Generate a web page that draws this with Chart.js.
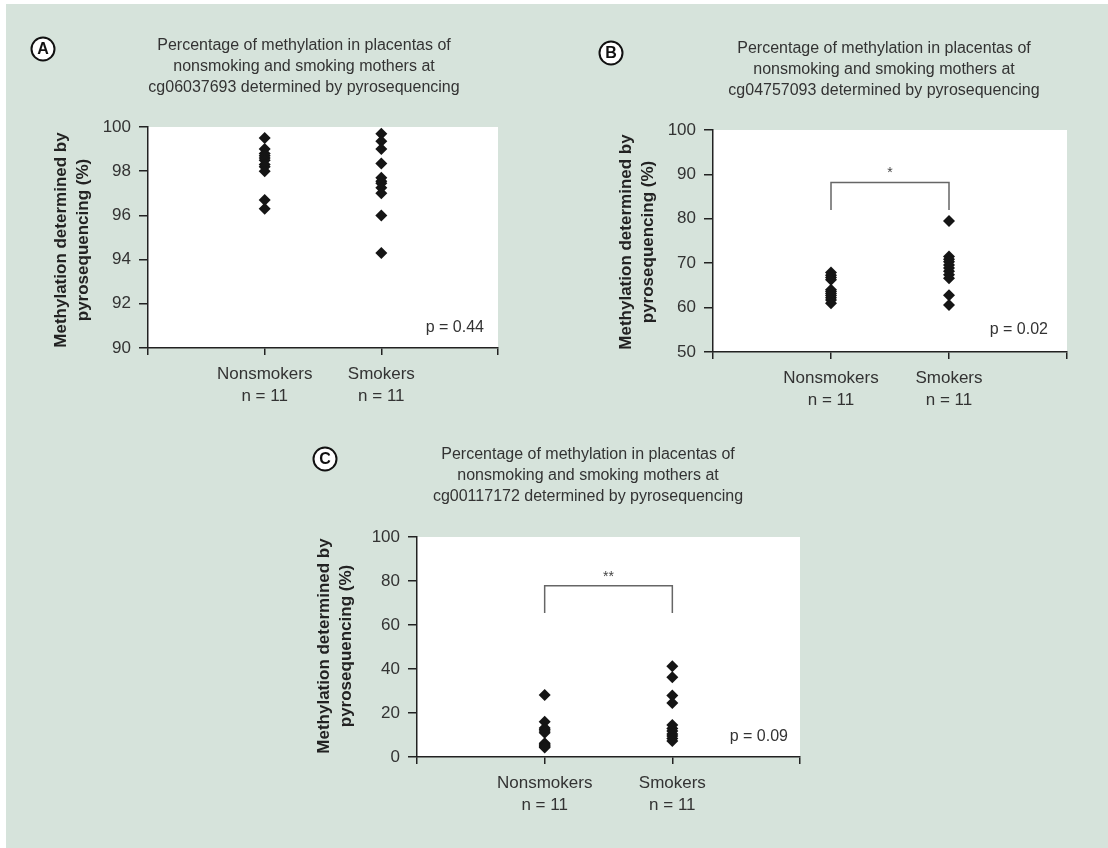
<!DOCTYPE html>
<html>
<head>
<meta charset="utf-8">
<script src="https://cdn.jsdelivr.net/npm/chart.js@4.4.1/dist/chart.umd.min.js"></script>
<style>
  html, body { margin: 0; padding: 0; background: #fff; }
  #page { position: relative; width: 1108px; height: 848px; overflow: hidden; }
  #bg { position: absolute; left: 6px; top: 4px; width: 1102px; height: 844px; background: #d6e3db; }
  canvas { position: absolute; }
</style>
</head>
<body>
<div id="page"><div id="bg"></div></div>
<script>
// categories and group sizes
const categories = ['Nonsmokers', 'Smokers'];
const groupSizes = ['n = 11', 'n = 11'];

// A: cg06037693
const nonsmokersA = [99.5, 99.0, 98.8, 98.7, 98.6, 98.5, 98.3, 98.2, 98.0, 96.7, 96.3];
const smokersA = [99.7, 99.35, 99.0, 98.35, 97.7, 97.55, 97.45, 97.25, 97.0, 96.0, 94.3];
const ticksA = [90, 92, 94, 96, 98, 100];

// B: cg04757093
const nonsmokersB = [67.9, 67.3, 66.8, 66.3, 64.0, 63.6, 63.2, 62.7, 62.2, 61.7, 61.0];
const smokersB = [79.5, 71.5, 70.9, 70.3, 69.6, 68.9, 68.2, 67.4, 66.6, 62.8, 60.6];
const ticksB = [50, 60, 70, 80, 90, 100];

// C: cg00117172
const nonsmokersC = [28.2, 16.0, 13.2, 12.5, 11.8, 11.0, 6.3, 5.8, 5.2, 4.8, 4.3];
const smokersC = [41.3, 36.3, 28.0, 24.6, 14.5, 13.0, 11.8, 10.5, 9.5, 8.4, 7.3];
const ticksC = [0, 20, 40, 60, 80, 100];

const pValues = ['p = 0.44', 'p = 0.02', 'p = 0.09'];

const FONT = '"Liberation Sans", Arial, Helvetica, sans-serif';
const INK = '#222';

const decor = {
    id: 'decor',
    beforeDraw(chart) {
        const a = chart.chartArea;
        const ctx = chart.ctx;
        ctx.save();
        ctx.fillStyle = '#fff';
        ctx.fillRect(a.left, a.top, a.right - a.left, a.bottom - a.top);
        ctx.restore();
    },
    afterDraw(chart, args, o) {
        const ctx = chart.ctx;
        const ox = o.box[0], oy = o.box[1];
        ctx.save();

        // circled panel letter
        ctx.beginPath();
        ctx.arc(o.circle[0] - ox, o.circle[1] - oy, 11.5, 0, Math.PI * 2);
        ctx.fillStyle = '#fff';
        ctx.fill();
        ctx.lineWidth = 2;
        ctx.strokeStyle = '#111';
        ctx.stroke();
        ctx.fillStyle = '#111';
        ctx.font = 'bold 16px ' + FONT;
        ctx.textAlign = 'center';
        ctx.textBaseline = 'middle';
        ctx.fillText(o.letter, o.circle[0] - ox, o.circle[1] - oy + 1);

        // title
        ctx.fillStyle = '#333';
        ctx.font = '16px ' + FONT;
        o.title.forEach((line, i) => {
            ctx.fillText(line, o.titleX - ox, o.titleY[i] - oy);
        });

        // y axis title
        ctx.fillStyle = INK;
        ctx.font = 'bold 17px ' + FONT;
        ['Methylation determined by', 'pyrosequencing (%)'].forEach((line, i) => {
            ctx.save();
            ctx.translate(o.yTitleX[i] - ox, o.yTitleY - oy);
            ctx.rotate(-Math.PI / 2);
            ctx.fillText(line, 0, 0);
            ctx.restore();
        });

        // p value
        ctx.fillStyle = '#333';
        ctx.font = '16px ' + FONT;
        ctx.textAlign = 'right';
        ctx.fillText(o.p, o.pPos[0] - ox, o.pPos[1] - oy);

        // significance bracket
        if (o.bracket) {
            const xs = chart.scales.x, ys = chart.scales.y;
            const x1 = xs.getPixelForValue(1), x2 = xs.getPixelForValue(2);
            const yLow = ys.getPixelForValue(o.bracket[0]);
            const yHigh = ys.getPixelForValue(o.bracket[1]);
            ctx.beginPath();
            ctx.moveTo(x1, yLow);
            ctx.lineTo(x1, yHigh);
            ctx.lineTo(x2, yHigh);
            ctx.lineTo(x2, yLow);
            ctx.lineWidth = 1.5;
            ctx.strokeStyle = '#666';
            ctx.stroke();
            ctx.fillStyle = '#444';
            ctx.font = '14px ' + FONT;
            ctx.textAlign = 'center';
            ctx.fillText(o.stars, (x1 + x2) / 2, yHigh - 9);
        }
        ctx.restore();
    }
};

function makePanel(cfg) {
    const [cx, cy, w, h] = cfg.box;
    const area = cfg.area;
    const canvas = document.createElement('canvas');
    canvas.width = w;
    canvas.height = h;
    canvas.style.left = cx + 'px';
    canvas.style.top = cy + 'px';
    canvas.style.width = w + 'px';
    canvas.style.height = h + 'px';
    document.getElementById('page').appendChild(canvas);

    const ticks = cfg.ticks;
    const pointStyle = {
        pointStyle: 'rectRot',
        pointRadius: 6,
        pointBackgroundColor: '#151515',
        pointBorderColor: '#151515',
        pointBorderWidth: 0
    };

    new Chart(canvas.getContext('2d'), {
        type: 'scatter',
        data: {
            datasets: [
                Object.assign({ label: categories[0], data: cfg.nonsmokers.map(v => ({ x: 1, y: v })) }, pointStyle),
                Object.assign({ label: categories[1], data: cfg.smokers.map(v => ({ x: 2, y: v })) }, pointStyle)
            ]
        },
        options: {
            responsive: false,
            animation: false,
            layout: { padding: { top: area[1] - cy, right: cx + w - area[2], left: 0, bottom: 0 } },
            plugins: {
                legend: { display: false },
                tooltip: { enabled: false },
                decor: cfg
            },
            scales: {
                x: {
                    type: 'linear',
                    min: 0,
                    max: 3,
                    afterBuildTicks: s => { s.ticks = [0, 1, 2, 3].map(v => ({ value: v })); },
                    afterFit: s => { s.height = cy + h - area[3]; },
                    grid: { drawOnChartArea: false, drawTicks: true, tickLength: 7, color: INK, lineWidth: 1.5 },
                    border: { display: true, color: INK, width: 1.5 },
                    ticks: {
                        autoSkip: false,
                        maxRotation: 0,
                        padding: 8,
                        color: '#333',
                        font: { family: FONT, size: 17, lineHeight: 1.3 },
                        callback: v => (v === 1 || v === 2) ? [categories[v - 1], groupSizes[v - 1]] : ''
                    }
                },
                y: {
                    min: ticks[0],
                    max: ticks[ticks.length - 1],
                    afterBuildTicks: s => { s.ticks = ticks.map(v => ({ value: v })); },
                    afterFit: s => { s.width = area[0] - cx; },
                    grid: { drawOnChartArea: false, drawTicks: true, tickLength: 9, color: INK, lineWidth: 1.5 },
                    border: { display: true, color: INK, width: 1.5 },
                    ticks: {
                        padding: 8,
                        color: '#333',
                        font: { family: FONT, size: 17 }
                    }
                }
            }
        },
        plugins: [decor]
    });
}

const titleTop = ['Percentage of methylation in placentas of', 'nonsmoking and smoking mothers at'];

makePanel({
    box: [0, 0, 554, 420], area: [148, 127, 498, 348],
    nonsmokers: nonsmokersA, smokers: smokersA, ticks: ticksA,
    letter: 'A', circle: [43, 49],
    title: titleTop.concat(['cg06037693 determined by pyrosequencing']), titleX: 304, titleY: [46, 67, 88],
    yTitleX: [61, 83], yTitleY: 240,
    p: pValues[0], pPos: [484, 328]
});

makePanel({
    box: [554, 0, 554, 420], area: [713, 130, 1067, 352],
    nonsmokers: nonsmokersB, smokers: smokersB, ticks: ticksB,
    letter: 'B', circle: [611, 53],
    title: titleTop.concat(['cg04757093 determined by pyrosequencing']), titleX: 884, titleY: [49, 70, 91],
    yTitleX: [626, 648], yTitleY: 242,
    p: pValues[1], pPos: [1048, 330],
    bracket: [82, 88.2], stars: '*'
});

makePanel({
    box: [280, 420, 560, 428], area: [417, 537, 800, 757],
    nonsmokers: nonsmokersC, smokers: smokersC, ticks: ticksC,
    letter: 'C', circle: [325, 459],
    title: titleTop.concat(['cg00117172 determined by pyrosequencing']), titleX: 588, titleY: [455, 476, 497],
    yTitleX: [324, 346], yTitleY: 646,
    p: pValues[2], pPos: [788, 737],
    bracket: [65.5, 77.8], stars: '**'
});
</script>
</body>
</html>
